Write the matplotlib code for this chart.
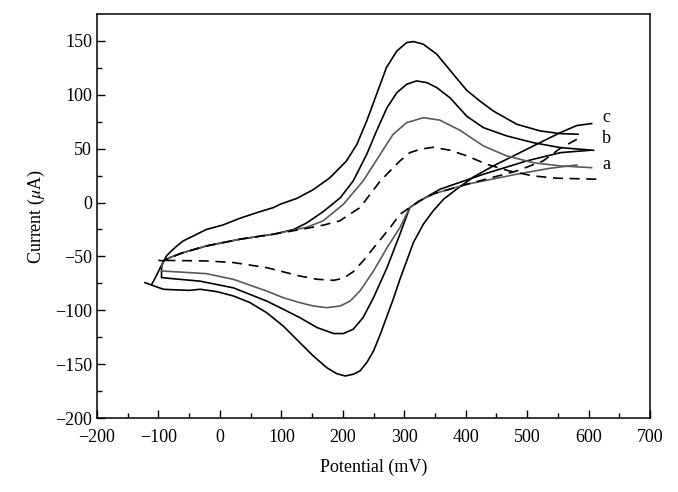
import numpy as np
from matplotlib import pyplot as plt

plt.rcParams['font.family'] = ['Liberation Serif', 'DejaVu Serif']
plt.rcParams['mathtext.fontset'] = 'stix'
plt.rcParams['lines.solid_joinstyle'] = 'round'
plt.rcParams['lines.dash_joinstyle'] = 'round'

# curve c (outer, black): anodic sweep, then cathodic sweep
c_fwd_x = [-111, -105, -97, -87, -81, -70, -60, -49, -22, 5, 33, 60, 87, 98, 125, 152, 179, 206, 223, 239, 255, 271, 288, 304, 315, 331, 353, 380, 402, 423, 445, 483, 521, 554, 583]
c_fwd_y = [-75.9, -69.7, -60.4, -49.6, -46, -40.3, -35.7, -32.6, -25, -20.8, -14.5, -9.4, -4.7, -1.6, 3.8, 12, 23, 38.6, 54.1, 75.8, 100.5, 125.3, 140.7, 148.5, 149.4, 147, 137.7, 119, 104, 94.3, 85, 72.7, 66.5, 64, 63.4]
c_rev_x = [605, 581, 554, 521, 483, 445, 412, 385, 364, 347, 331, 315, 304, 293, 282, 272, 261, 250, 239, 228, 217, 204, 190, 174, 152, 130, 103, 76, 49, 22, -5, -32, -49, -70, -92, -122]
c_rev_y = [73.3, 71.5, 64.9, 55.6, 44.8, 34, 23.5, 12.3, 3.1, -7.8, -20.2, -37, -54.2, -71.2, -89.8, -105.3, -122.3, -137.8, -148.6, -156.3, -159.4, -161, -158.8, -153.3, -142.4, -130, -114.6, -102.2, -92.9, -86.7, -82.7, -80.5, -81.5, -81.1, -80.5, -74.4]

# curve b (middle, black)
b_fwd_x = [-95, -92, -81, -60, -22, 33, 87, 120, 141, 168, 196, 217, 239, 255, 272, 288, 304, 320, 337, 353, 375, 402, 429, 467, 510, 554, 608]
b_fwd_y = [-60, -54.2, -51, -46.5, -40.3, -34, -29.4, -25, -19, -8.5, 4.5, 20.1, 44.8, 66.5, 88.1, 102, 109.8, 112.9, 111.3, 106.7, 97, 80, 69.5, 61.8, 55.6, 51, 48.5]
b_rev_x = [602, 554, 499, 429, 358, 325, 309, 293, 272, 250, 233, 217, 201, 185, 158, 130, 103, 76, 22, -32, -95, -95]
b_rev_y = [48.5, 46.3, 38.6, 26.3, 12.3, 1.5, -4.7, -29.4, -60.4, -88.3, -106.8, -117.6, -121.6, -121.6, -116, -106.8, -99, -91.4, -79.2, -73, -69.7, -60]

# curve a (grey)
a_fwd_x = [-95, -92, -81, -60, -22, 33, 87, 141, 168, 201, 233, 261, 282, 304, 315, 331, 358, 391, 429, 467, 510, 554, 605]
a_fwd_y = [-60, -54.2, -51, -46.5, -40.3, -34, -29.4, -23, -17, -1.6, 20, 44.8, 63.4, 74.2, 76, 78.8, 76.5, 67, 52.5, 43.3, 37, 34, 32.4]
a_rev_x = [581, 537, 483, 402, 347, 325, 309, 293, 272, 250, 228, 212, 196, 174, 152, 130, 103, 76, 22, -22, -95]
a_rev_y = [34.9, 31.8, 26.3, 17, 8, 1.5, -4.7, -23.3, -41.9, -63.5, -82, -91.4, -96, -97.6, -96, -92.9, -88.3, -82.1, -71.3, -66, -63.5]

# dashed curve
d_fwd_x = [-100, -92, -81, -60, -22, 33, 87, 141, 168, 195, 228, 261, 277, 293, 309, 326, 347, 375, 402, 434, 471, 510, 548, 618]
d_fwd_y = [-53.6, -54.2, -51, -46.5, -40.3, -34, -29.4, -24, -21, -17, -4.7, 20, 29.3, 38.6, 46.3, 49.5, 51.3, 48.5, 43.3, 35.6, 29.3, 24.7, 22.6, 21.6]
d_rev_x = [581, 554, 526, 483, 402, 347, 325, 309, 293, 277, 255, 233, 217, 201, 185, 158, 130, 76, 22, -22, -100]
d_rev_y = [58.7, 50.4, 38.6, 29.3, 17, 8, 1.5, -4.7, -10.9, -23.3, -38.7, -54.2, -64.2, -70.3, -72.2, -71.2, -68.2, -60.4, -55.7, -54.2, -53.6]

labels = ["c", "b", "a"]
label_y = [79, 59, 35]

fig = plt.figure(figsize=(6.78, 4.92), dpi=100)
ax = fig.add_axes([0.1431, 0.1504, 0.8156, 0.8211])

lw = 1.2
ax.plot(c_fwd_x, c_fwd_y, color="black", lw=lw)
ax.plot(c_rev_x, c_rev_y, color="black", lw=lw)
ax.plot(b_fwd_x, b_fwd_y, color="black", lw=lw)
ax.plot(b_rev_x, b_rev_y, color="black", lw=lw)
ax.plot(a_fwd_x, a_fwd_y, color="#5a5a5a", lw=lw)
ax.plot(a_rev_x, a_rev_y, color="#5a5a5a", lw=lw)
ax.plot(d_fwd_x, d_fwd_y, color="black", lw=lw, dashes=(6, 4))
ax.plot(d_rev_x, d_rev_y, color="black", lw=lw, dashes=(6, 4))

for lab, yy in zip(labels, label_y):
    ax.text(622, yy, lab, fontsize=13, va="center", ha="left")

ax.set_xlim(-200, 700)
ax.set_ylim(-200, 175)
ax.set_xticks(np.arange(-200, 701, 100))
ax.set_yticks(np.arange(-200, 151, 50))
ax.set_xticks(np.arange(-150, 700, 100), minor=True)
ax.set_yticks(np.arange(-175, 175, 50), minor=True)
ax.set_xticklabels(["\u2212200", "\u2212100", "0", "100", "200", "300", "400", "500", "600", "700"])
ax.set_yticklabels(["\u2212200", "\u2212150", "\u2212100", "\u221250", "0", "50", "100", "150"])
ax.tick_params(which="major", direction="in", length=6, width=1, labelsize=13)
ax.tick_params(axis="x", which="major", pad=8)
ax.tick_params(which="minor", direction="in", length=3.5, width=1)
for s in ax.spines.values():
    s.set_linewidth(1.1)

ax.set_xlabel("Potential (mV)", fontsize=13, labelpad=9)
ax.set_ylabel(r"Current ($\mu$A)", fontsize=13, labelpad=6)

fig.savefig("out.png", dpi=100)
